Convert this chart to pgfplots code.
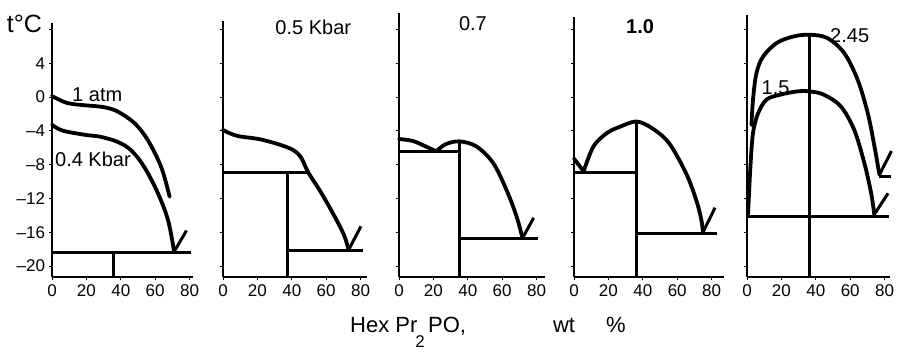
\documentclass[border=0pt]{standalone}
\usepackage{fontspec}
\setmainfont{Liberation Sans}
\usepackage{pgfplots}
\pgfplotsset{compat=1.18}
\tikzset{lbl/.style={font=\fontsize{20}{20}\selectfont, anchor=base, inner sep=0pt}}
\pgfplotsset{
  panel/.style={
    x=1.72pt, y=8.45pt, xmin=0, ymin=-21.3,
    scale only axis, clip=false,
    axis lines*=left,
    axis line style={line width=1.1pt},
    tick align=outside, major tick length=3.5pt,
    tick style={line width=0.9pt, black},
    ytick={-20,-16,-12,-8,-4,0,4,8}, yticklabels={},
    xtick={0,20,40,60,80}, xticklabels={0,20,40,60,80},
    xticklabel style={font=\fontsize{17}{17}\selectfont, yshift=-1pt},
    yticklabel style={font=\fontsize{17}{17}\selectfont},
    no markers,
  },
  crv/.style={black, line width=3.8pt, smooth, tension=0.55, line cap=round, line join=round},
  ln/.style={black, line width=3pt},
}
\begin{document}
\begin{tikzpicture}
\useasboundingbox (0,0) rectangle (900pt,355pt);

% ---------- Panel 1 ----------
\begin{axis}[panel, at={(52pt,78pt)}, anchor=south west, xmax=82, ymax=8.76,
  yticklabels={--20,--16,--12,--8,--4,0,4,{}}]
\addplot[crv] coordinates {(0,0.1) (4,-0.3) (8.6,-0.7) (15,-0.9) (20.4,-1.0) (30,-1.2) (38,-1.7) (48,-3.1) (55.7,-5.1) (63.5,-8.3) (68.4,-11.8)};
\addplot[crv] coordinates {(0,-3.3) (4,-3.8) (8.6,-4.1) (20,-4.5) (28,-4.7) (38,-5.3) (46,-6.3) (53.7,-8.3) (61.6,-11.4) (67.5,-14.6) (71,-18.3)};
\addplot[ln] coordinates {(71,-18.3) (78.2,-15.8)};
\addplot[ln] coordinates {(0,-18.45) (81,-18.45)};
\addplot[ln] coordinates {(36,-18.45) (36,-21.3)};
\node[lbl] at (axis cs:26.3,-0.52) {1 atm};
\node[lbl] at (axis cs:23.8,-8.2) {0.4 Kbar};
\node[font=\fontsize{25}{25}\selectfont, inner sep=0pt] at (axis cs:-16,8.6) {t°C};
\end{axis}

% ---------- Panel 2 ----------
\begin{axis}[panel, at={(223pt,78pt)}, anchor=south west, xmax=84, ymax=9.0]
\addplot[crv] coordinates {(0,-3.9) (4,-4.3) (9.7,-4.66) (20.9,-4.98) (32.4,-5.6) (41,-6.3) (45.5,-7.2) (49.5,-8.9) (57,-11.3) (64.8,-14.1) (70.5,-16.4) (73,-18.1)};
\addplot[ln] coordinates {(73,-18.1) (80.2,-15.3)};
\addplot[ln] coordinates {(0,-8.9) (49.7,-8.9)};
\addplot[ln] coordinates {(37.7,-8.9) (37.7,-21.3)};
\addplot[ln] coordinates {(37.7,-18.15) (81.5,-18.15)};
\node[lbl] at (axis cs:52.5,7.37) {0.5 Kbar};
\end{axis}

% ---------- Panel 3 ----------
\begin{axis}[panel, at={(399pt,78pt)}, anchor=south west, xmax=85, ymax=9.9]
\addplot[crv] coordinates {(0,-4.97) (8,-5.2) (15,-5.8) (21.7,-6.43)};
\addplot[crv] coordinates {(21.7,-6.43) (27,-5.6) (35,-5.25) (45,-5.85) (54.7,-7.8) (62.5,-11) (68.3,-14.1) (71.8,-16.7)};
\addplot[ln] coordinates {(71.8,-16.7) (78.3,-14.3)};
\addplot[ln] coordinates {(0,-6.5) (35,-6.5)};
\addplot[ln] coordinates {(35,-5.25) (35,-21.3)};
\addplot[ln] coordinates {(35,-16.8) (80.6,-16.8)};
\node[lbl] at (axis cs:43,7.9) {0.7};
\end{axis}

% ---------- Panel 4 ----------
\begin{axis}[panel, at={(574pt,78pt)}, anchor=south west, xmax=87, ymax=9.5]
\addplot[crv] coordinates {(0,-7.3) (5.6,-8.8)};
\addplot[crv] coordinates {(5.6,-8.8) (11.3,-5.85) (19.2,-4.26) (27.2,-3.48) (36.3,-2.9) (45.2,-3.67) (55.2,-5.44) (65.1,-9) (71,-12.15) (74,-14.5) (75,-16)};
\addplot[ln] coordinates {(75,-16) (82,-13.1)};
\addplot[ln] coordinates {(0,-8.9) (35.3,-8.9)};
\addplot[ln] coordinates {(36.3,-2.9) (36.3,-21.3)};
\addplot[ln] coordinates {(36.3,-16.2) (83.3,-16.2)};
\node[lbl, font=\bfseries\fontsize{20}{20}\selectfont] at (axis cs:38.4,7.57) {1.0};
\end{axis}

% ---------- Panel 5 ----------
\begin{axis}[panel, at={(747pt,78pt)}, anchor=south west, xmax=83, ymax=9.7]
\addplot[crv] coordinates {(2.6,-3.3) (3.5,-0.3) (5.5,2.84) (9.4,4.8) (17.3,6.4) (27.1,7.17) (36.5,7.37) (46.7,6.98) (56.5,5.2) (64.3,2.05) (70.2,-1.9) (74.1,-5.85) (77,-9.2)};
\addplot[ln] coordinates {(77,-9.2) (84,-6.4)};
\addplot[ln] coordinates {(77,-9.4) (84,-9.4)};
\addplot[crv] coordinates {(0.6,-13.9) (2,-8.2) (3.5,-4.26) (6.5,-1.9) (11.4,-0.3) (19.2,0.27) (29,0.66) (36.5,0.66) (44.7,0.27) (54.5,-1.1) (62.3,-3.87) (68.2,-7.8) (72.2,-11.4) (74,-13.9)};
\addplot[ln] coordinates {(74,-13.9) (82,-11.4)};
\addplot[ln] coordinates {(0,-14.2) (82.7,-14.2)};
\addplot[ln] coordinates {(36.5,7.37) (36.5,-21.3)};
\node[lbl] at (axis cs:59.7,6.4) {2.45};
\node[lbl] at (axis cs:16.6,0.27) {1.5};
\end{axis}

% ---------- common x label ----------
\node[font=\fontsize{22}{22}\selectfont, anchor=base west, inner sep=0pt] at (350pt,22pt) {Hex Pr};
\node[font=\fontsize{17}{17}\selectfont, anchor=base, inner sep=0pt] at (420pt,7pt) {2};
\node[font=\fontsize{22}{22}\selectfont, anchor=base west, inner sep=0pt] at (428pt,22pt) {PO,};
\node[font=\fontsize{22}{22}\selectfont, anchor=base, inner sep=0pt] at (564pt,22pt) {wt};
\node[font=\fontsize{22}{22}\selectfont, anchor=base, inner sep=0pt] at (616pt,22pt) {\%};
\end{tikzpicture}
\end{document}
